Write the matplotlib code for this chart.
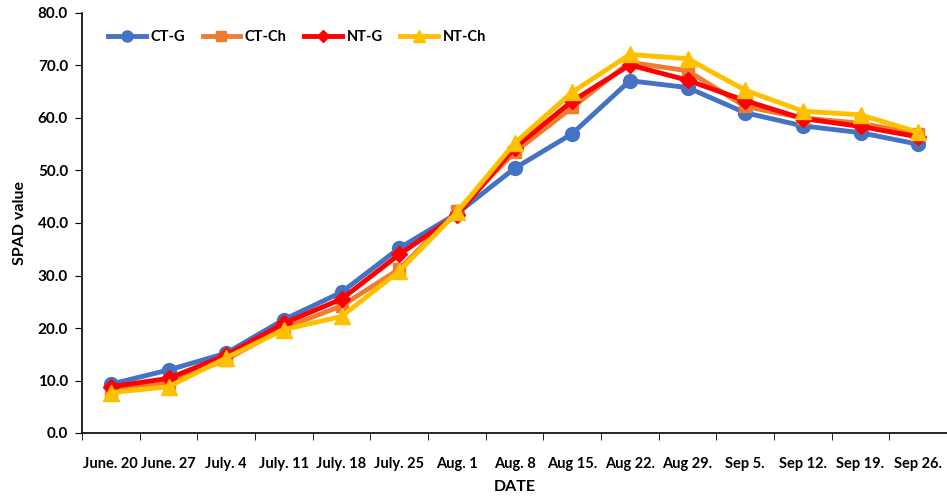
import numpy as np
import matplotlib.pyplot as plt

plt.rcParams['font.family'] = ['Lato', 'DejaVu Sans']
plt.rcParams['font.weight'] = 'bold'

dates = ['June. 20', 'June. 27', 'July. 4', 'July. 11', 'July. 18', 'July. 25', 'Aug. 1',
         'Aug. 8', 'Aug 15.', 'Aug 22.', 'Aug 29.', 'Sep 5.', 'Sep 12.', 'Sep 19.', 'Sep 26.']

ct_g = [9.3, 12.0, 15.2, 21.6, 26.8, 35.2, 41.8, 50.4, 57.0, 67.1, 65.8, 61.0, 58.5, 57.2, 55.0]
ct_ch = [8.0, 9.5, 14.0, 20.0, 24.2, 31.2, 42.2, 53.5, 62.0, 70.6, 69.0, 62.2, 60.0, 59.0, 57.0]
nt_g = [8.8, 10.4, 14.8, 20.9, 25.5, 34.0, 41.5, 54.3, 63.2, 70.1, 67.2, 63.3, 59.9, 58.4, 56.4]
nt_ch = [7.7, 8.8, 14.3, 19.7, 22.2, 30.8, 42.0, 55.2, 64.9, 72.1, 71.3, 65.3, 61.3, 60.6, 57.3]

series = [
    ('CT-G', ct_g, '#4472C4', 'o', 10),
    ('CT-Ch', ct_ch, '#ED7D31', 's', 9),
    ('NT-G', nt_g, '#FF0000', 'D', 8),
    ('NT-Ch', nt_ch, '#FFC000', '^', 11),
]

fig = plt.figure(figsize=(9.47, 4.96), dpi=100)
ax = fig.add_axes([82 / 947, 63 / 496, 865 / 947, 420 / 496])

x = np.arange(len(dates))
for name, vals, col, mk, ms in series:
    ax.plot(x, vals, color=col, marker=mk, markersize=ms, linewidth=3.5, label=name)

ax.set_xlim(-0.5, len(dates) - 0.5)
ax.set_ylim(0, 80)
ax.set_yticks(np.arange(0, 81, 10))
ax.set_yticklabels([f'{v:.1f}' for v in np.arange(0, 81, 10)], fontsize=11, fontweight='bold')
ax.set_xticks(x)
ax.set_xticklabels(dates, fontsize=10.5, fontweight='bold')
ax.set_xticks(np.arange(-0.5, len(dates), 1), minor=True)
ax.tick_params(axis='x', which='major', length=0, pad=17)
ax.tick_params(axis='x', which='minor', length=5, direction='out')
ax.tick_params(axis='y', length=5, direction='out', pad=5)

ax.spines['top'].set_visible(False)
ax.spines['right'].set_visible(False)
ax.spines['left'].set_linewidth(1.2)
ax.spines['bottom'].set_linewidth(1.2)

ax.set_xlabel('DATE', fontsize=11.5, fontweight='bold', labelpad=7)
ax.set_ylabel('SPAD value', fontsize=11.5, fontweight='bold', labelpad=8)

ax.legend(loc='upper left', ncol=4, frameon=False, fontsize=10.5,
          bbox_to_anchor=(0.015, 0.99), handlelength=2.6, handletextpad=0.3,
          columnspacing=1.2, markerscale=0.8)

fig.savefig('out.png', dpi=100)
